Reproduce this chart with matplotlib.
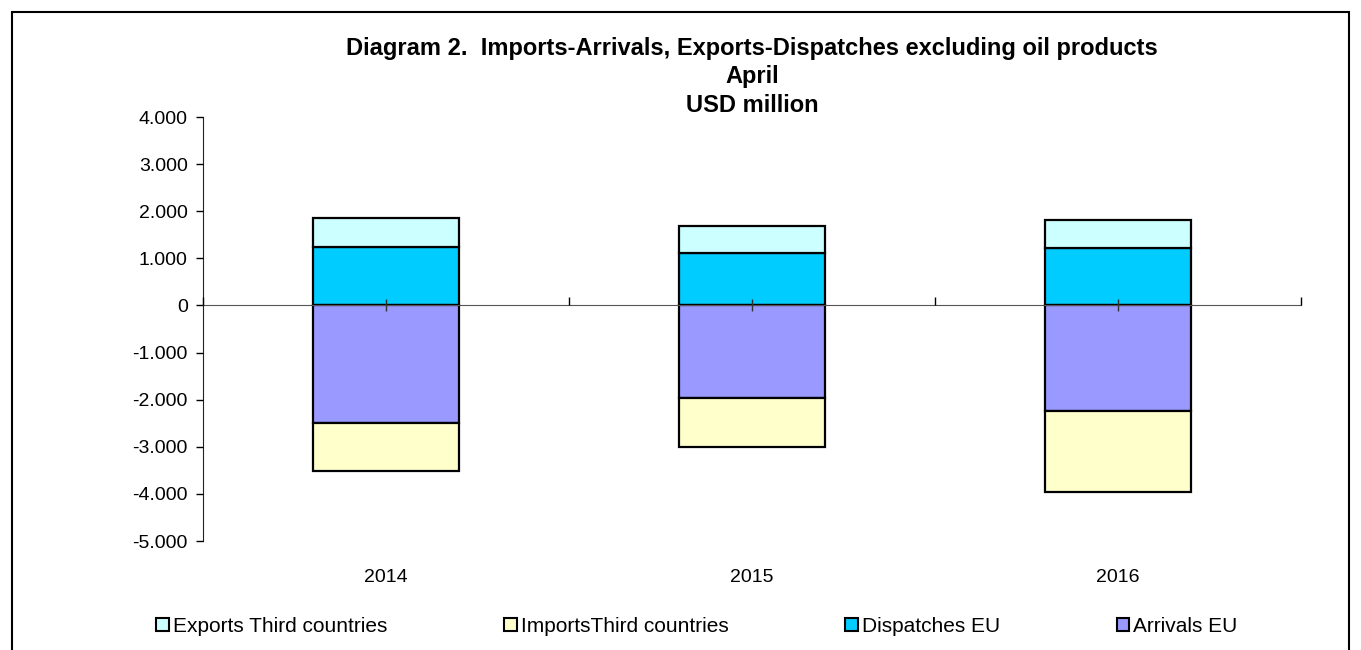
import numpy as np
import matplotlib.pyplot as plt
from matplotlib.patches import Rectangle
from matplotlib.ticker import FuncFormatter
import matplotlib.transforms as mtransforms

# ===================================================================
# Data (USD million)
# ===================================================================
years = ["2014", "2015", "2016"]
dispatches_eu = [1246, 1110, 1225]
exports_third = [607, 580, 595]
arrivals_eu = [-2499, -1975, -2236]
imports_third = [-1005, -1025, -1734]

y_ticks = [4000, 3000, 2000, 1000, 0, -1000, -2000, -3000, -4000, -5000]

title_lines = ["Diagram 2.  Imports-Arrivals, Exports-Dispatches excluding oil products",
               "April", "USD million"]

c_exports = "#CCFFFF"
c_imports = "#FFFFCC"
c_dispatch = "#00CCFF"
c_arrivals = "#9999FF"

plt.rcParams['font.family'] = ['Liberation Sans', 'DejaVu Sans']

W, H = 1361, 650
fig = plt.figure(figsize=(W / 100, H / 100), dpi=100)
ax = fig.add_axes([203 / W, 1 - 541 / H, 1098 / W, 424 / H])

x = np.arange(len(years))
w = 0.4
kw = dict(width=w, edgecolor="black", linewidth=1.6, zorder=2)
ax.bar(x, dispatches_eu, color=c_dispatch, **kw)
ax.bar(x, exports_third, bottom=dispatches_eu, color=c_exports, **kw)
ax.bar(x, arrivals_eu, color=c_arrivals, **kw)
ax.bar(x, imports_third, bottom=arrivals_eu, color=c_imports, **kw)
ax.set_axisbelow(False)

ax.set_xlim(-0.5, len(years) - 0.5)
ax.set_ylim(-5000, 4000)
ax.set_yticks(y_ticks)
ax.yaxis.set_major_formatter(FuncFormatter(lambda v, p: f"{v:,.0f}".replace(",", ".")))
ax.tick_params(axis="y", labelsize=14, length=5, width=1, direction="out", pad=6)

# x axis runs through zero
for s in ["top", "right"]:
    ax.spines[s].set_visible(False)
ax.spines["left"].set_color("#222222")
ax.spines["bottom"].set_position(("data", 0))
ax.spines["bottom"].set_color("#555555")
ax.set_xticks(np.arange(len(years) + 1) - 0.5)
ax.set_xticklabels([])
ax.set_xticks(x, minor=True)
ax.tick_params(axis="x", which="major", direction="in", length=6, width=1)
ax.tick_params(axis="x", which="minor", direction="inout", length=8, width=1, color="#333333")

trans = mtransforms.blended_transform_factory(ax.transData, ax.transAxes)
for xi, lab in zip(x, years):
    ax.text(xi, -0.085, lab, transform=trans, ha="center", va="center", fontsize=14)

# title, three lines
for line, yb in zip(title_lines, [55, 83, 112]):
    fig.text(752 / W, 1 - yb / H, line, ha="center", va="baseline",
             fontsize=17, fontweight="bold")

# legend
handles = [Rectangle((0, 0), 1, 1, facecolor=c, edgecolor="black", linewidth=1.5)
           for c in [c_exports, c_imports, c_dispatch, c_arrivals]]
labels = ["Exports Third countries", "ImportsThird countries", "Dispatches EU", "Arrivals EU"]
fig.legend(handles, labels, loc="center", bbox_to_anchor=(697 / W, 1 - 626 / H), ncol=4,
           frameon=False, fontsize=15, handlelength=0.6, handleheight=0.6,
           handletextpad=0.2, columnspacing=5.6, borderpad=0)

# outer frame
fig.patches.append(Rectangle((12 / W, -0.05), 1337 / W, 1.05 - 12 / H,
                             transform=fig.transFigure, fill=False, edgecolor="black",
                             linewidth=1.5))

fig.savefig("out.png", dpi=100)
